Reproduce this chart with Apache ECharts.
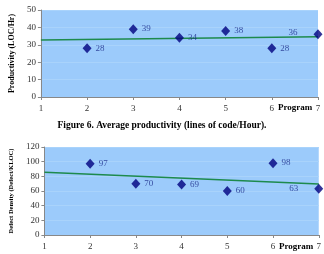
<!DOCTYPE html>
<html>
<head>
<meta charset="utf-8">
<script src="https://cdn.jsdelivr.net/npm/echarts@6/dist/echarts.min.js"></script>
<style>
  html, body { margin: 0; padding: 0; background: #fff; }
  #chart { width: 324px; height: 254px; }
</style>
</head>
<body>
<div id="chart"></div>
<script>
var programs = [2, 3, 4, 5, 6, 7];
var productivity = [28, 39, 34, 38, 28, 36];
var defectDensity = [97, 70, 69, 60, 98, 63];
// trend lines
var prodTrend = [[1, 32.7], [7, 34.6]];
var defectTrend = [[1, 85.7], [7, 69.4]];

var serif = '"Liberation Serif", "DejaVu Serif", serif';

function pairs(xs, ys) {
    var out = [];
    for (var i = 0; i < xs.length; i++) {
        out.push([xs[i], ys[i]]);
    }
    return out;
}

function xAxisFor(gridIndex) {
    return {
        gridIndex: gridIndex,
        type: 'value',
        min: 1, max: 7, interval: 1,
        axisLine: { lineStyle: { color: '#888' } },
        axisTick: { show: true, length: 3, lineStyle: { color: '#888' } },
        axisLabel: { color: '#333', fontFamily: serif, fontSize: 9, margin: 7 },
        splitLine: { show: false }
    };
}

function yAxisFor(gridIndex, max, interval, name, nameSize, nameGap) {
    return {
        gridIndex: gridIndex,
        type: 'value',
        min: 0, max: max, interval: interval,
        name: name,
        nameLocation: 'middle',
        nameGap: nameGap,
        nameTextStyle: { fontFamily: serif, fontWeight: 'bold', fontSize: nameSize, color: '#000' },
        axisLine: { show: true, lineStyle: { color: '#888' } },
        axisTick: { show: true, length: 3, lineStyle: { color: '#888' } },
        axisLabel: { color: '#333', fontFamily: serif, fontSize: 9, margin: 5 },
        splitLine: { show: true, lineStyle: { color: '#a9d3fb', width: 1 } }
    };
}

function pointSeries(idx, data, lastLeft) {
    return {
        type: 'scatter',
        xAxisIndex: idx, yAxisIndex: idx,
        symbol: 'diamond',
        symbolSize: [9, 10],
        itemStyle: { color: '#000080' },
        label: {
            show: true,
            position: 'right',
            distance: 4,
            color: '#1a2a8a',
            fontFamily: serif,
            fontSize: 9,
            formatter: function (p) { return p.value[1]; }
        },
        data: data.map(function (d, i) {
            if (i === data.length - 1) {
                return { value: d, label: { position: 'left', distance: lastLeft[0], offset: [0, lastLeft[1]] } };
            }
            return d;
        }),
        z: 5
    };
}

function trendSeries(idx, data) {
    return {
        type: 'line',
        xAxisIndex: idx, yAxisIndex: idx,
        symbol: 'none',
        lineStyle: { color: '#1d8a4c', width: 1.5 },
        data: data,
        z: 3
    };
}

var option = {
    animation: false,
    grid: [
        { left: 29, right: 6, top: 10, height: 87, backgroundColor: '#9ccbfb', show: true, borderWidth: 0 },
        { left: 32, right: 5, top: 147, height: 88, backgroundColor: '#9ccbfb', show: true, borderWidth: 0 }
    ],
    xAxis: [xAxisFor(0), xAxisFor(1)],
    yAxis: [
        yAxisFor(0, 50, 10, 'Productivity (LOC/Hr)', 8, 19),
        yAxisFor(1, 120, 20, 'Defect Density (Defect/KLOC)', 6.5, 22)
    ],
    graphic: [
        { type: 'text', left: 278, top: 103, style: { text: 'Program', font: 'bold 9px ' + serif, fill: '#000' } },
        { type: 'text', left: 279, top: 242, style: { text: 'Program', font: 'bold 9px ' + serif, fill: '#000' } },
        { type: 'text', left: 'center', top: 121, style: { text: 'Figure 6. Average productivity (lines of code/Hour).', font: 'bold 9.5px ' + serif, fill: '#000' } }
    ],
    series: [
        trendSeries(0, prodTrend),
        pointSeries(0, pairs(programs, productivity), [16, -2]),
        trendSeries(1, defectTrend),
        pointSeries(1, pairs(programs, defectDensity), [16, 0])
    ]
};

var chart = echarts.init(document.getElementById('chart'));
chart.setOption(option);
</script>
</body>
</html>
